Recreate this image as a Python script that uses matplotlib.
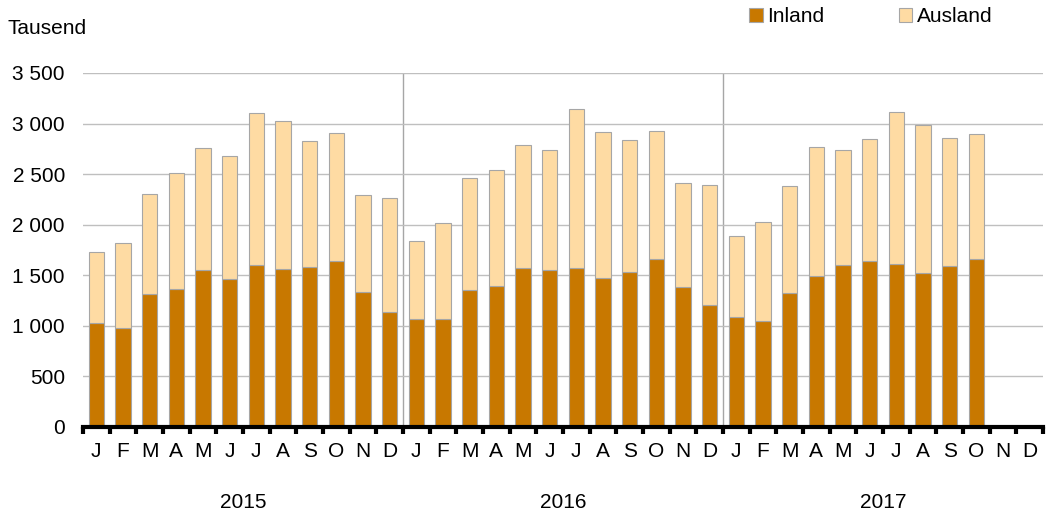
import matplotlib
matplotlib.use("Agg")
import matplotlib.pyplot as plt
import numpy as np
from matplotlib.transforms import blended_transform_factory

plt.rcParams['font.family'] = ['Liberation Sans', 'DejaVu Sans']

months = ["J", "F", "M", "A", "M", "J", "J", "A", "S", "O", "N", "D"]
years = ["2015", "2016", "2017"]

inland = [1025, 975, 1311, 1360, 1548, 1459, 1601, 1565, 1581, 1637, 1331, 1136,
          1067, 1064, 1354, 1390, 1568, 1548, 1571, 1476, 1528, 1663, 1380, 1202,
          1084, 1047, 1328, 1495, 1598, 1644, 1608, 1525, 1594, 1660]
total = [1729, 1815, 2299, 2507, 2754, 2675, 3103, 3024, 2826, 2902, 2289, 2269,
         1835, 2016, 2464, 2543, 2787, 2740, 3142, 2912, 2833, 2925, 2408, 2395,
         1887, 2022, 2385, 2767, 2740, 2846, 3119, 2984, 2859, 2892]
ausland = [t - i for t, i in zip(total, inland)]

c_in = "#C87800"
c_aus = "#FEDBA3"
edge = "#A6A6A6"
fs = 15

fig = plt.figure(figsize=(10.46, 5.21), dpi=100)
ax = fig.add_axes([83/1046, 1 - 427/521, 960/1046, 354/521])

n_slots = len(months) * len(years)
x = np.arange(len(inland))
ax.bar(x, inland, width=0.58, color=c_in, edgecolor=edge, linewidth=0.8, zorder=3, label="Inland")
ax.bar(x, ausland, bottom=inland, width=0.58, color=c_aus, edgecolor=edge, linewidth=0.8, zorder=3, label="Ausland")

ax.set_xlim(-0.5, n_slots - 0.5)
ax.set_ylim(0, 3500)
ax.set_yticks(np.arange(0, 3501, 500))
ax.set_yticklabels([f"{v:,}".replace(",", " ") for v in np.arange(0, 3501, 500)], fontsize=fs)
ax.yaxis.grid(True, color="#BFBFBF", linewidth=1, zorder=0)
ax.tick_params(axis="y", length=0, pad=13)

for s in ["top", "right", "left"]:
    ax.spines[s].set_visible(False)
ax.spines["bottom"].set_linewidth(3)
ax.spines["bottom"].set_zorder(4)

for k in range(1, len(years)):
    ax.axvline(k * 12 - 0.5, color="#A6A6A6", linewidth=1, zorder=1)

ax.set_xticks(np.arange(-0.5, n_slots, 1.0))
ax.set_xticklabels([])
ax.tick_params(axis="x", which="major", length=5, width=3, color="black", direction="out")
ax.set_xticks(np.arange(n_slots), minor=True)
ax.set_xticklabels(months * len(years), minor=True, fontsize=fs)
ax.tick_params(axis="x", which="minor", length=0, pad=11)

trans = blended_transform_factory(ax.transData, fig.transFigure)
for k, yr in enumerate(years):
    ax.text(k * 12 + 5.5, 1 - 503/521, yr, transform=trans, ha="center", va="center", fontsize=fs)

fig.text(8/1046, 1 - 28/521, "Tausend", ha="left", va="center", fontsize=fs)

leg = fig.legend(handles=ax.patches[:1] + ax.patches[len(inland):len(inland)+1],
                 labels=["Inland", "Ausland"], loc="center left", bbox_to_anchor=(749/1046, 1 - 17/521),
                 ncol=2, frameon=False, fontsize=fs, handlelength=0.65, handleheight=0.65,
                 handletextpad=0.2, columnspacing=3.6, borderpad=0, borderaxespad=0)

fig.savefig("out.png", dpi=100)
